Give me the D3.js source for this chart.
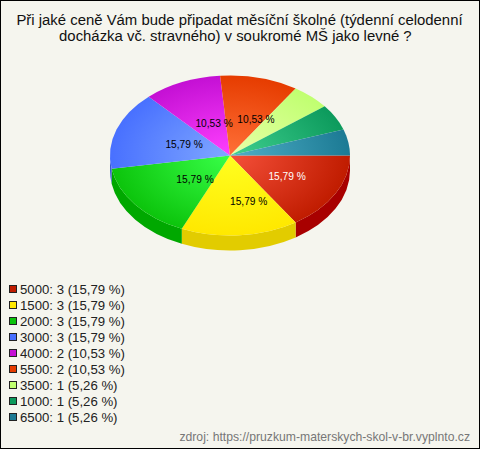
<!DOCTYPE html>
<html><head><meta charset="utf-8">
<script src="https://cdn.jsdelivr.net/npm/d3@7"></script>
<style>html,body{margin:0;padding:0;background:#f5f5ee}svg{display:block}text{font-family:"Liberation Sans",Arial,sans-serif}</style>
</head><body><svg id="c" width="480" height="449"></svg>
<script>
const categories=["5000","1500","2000","3000","4000","5500","3500","1000","6500"];
const counts=[3,3,3,3,2,2,1,1,1];
const percents=["15,79","15,79","15,79","15,79","10,53","10,53","5,26","5,26","5,26"];
const baseColors=["#c01c00","#ffe800","#0cc40c","#4870ff","#c410d4","#e63c00","#c0ff70","#0c9a5c","#1c7a94"];
const lightColors=["#f5503a","#ffff20","#38ff48","#80a8ff","#ff40ff","#ff7038","#e8ffa8","#40d090","#50b0c8"];
const sideColors=["#a80000","#e2cc00","#00a800","#3858d0","#9c0cac","#b83000","#9ccc58","#0a7a48","#166078"];
const titleLines=["Při jaké ceně Vám bude připadat měsíční školné (týdenní celodenní","docházka vč. stravného) v soukromé MŠ jako levné ?\u00a0\u00a0"];
const source="zdroj: https://pruzkum-materskych-skol-v-br.vyplnto.cz";
const labelNudge=[[0,0],[7,3],[3,-3],[1,2],[0,5],[5,4]];

const W=480,H=449,cx=230,cy=155.5,rx=120,ry=80,depth=15;
const svg=d3.select("#c");
svg.append("rect").attr("x",.5).attr("y",.5).attr("width",W-1).attr("height",H-1).attr("fill","#f5f5ee").attr("stroke","#000");

svg.append("g").selectAll("text").data(titleLines).join("text")
 .attr("x",239.5).attr("y",(d,i)=>25+i*15.5).attr("text-anchor","middle").attr("font-size",14.9).attr("fill","#111").text(d=>d);

const pie=d3.pie().sort(null).startAngle(0).endAngle(2*Math.PI);
const arcs=pie(counts);
const px=a=>cx+rx*Math.cos(a), py=a=>cy+ry*Math.sin(a);
const defs=svg.append("defs");
arcs.forEach((d,i)=>{
 const g=defs.append("radialGradient").attr("id","g"+i).attr("gradientUnits","userSpaceOnUse")
  .attr("cx",0).attr("cy",0).attr("r",1)
  .attr("gradientTransform",`translate(${cx},${cy}) scale(${rx},${ry})`);
 g.append("stop").attr("offset",0).attr("stop-color",lightColors[i]);
 g.append("stop").attr("offset",1).attr("stop-color",baseColors[i]);
});
const side=svg.append("g");
arcs.forEach((d,i)=>{
 const a0=Math.max(d.startAngle,0),a1=Math.min(d.endAngle,Math.PI);
 if(a0>=a1)return;
 side.append("path").attr("fill",sideColors[i]).attr("d",
  `M${px(a0)},${py(a0)}A${rx},${ry} 0 0 1 ${px(a1)},${py(a1)}L${px(a1)},${py(a1)+depth}A${rx},${ry} 0 0 0 ${px(a0)},${py(a0)+depth}Z`);
});
svg.append("g").selectAll("path").data(arcs).join("path")
 .attr("fill",(d,i)=>`url(#g${i})`)
 .attr("d",d=>`M${cx},${cy}L${px(d.startAngle)},${py(d.startAngle)}A${rx},${ry} 0 ${d.endAngle-d.startAngle>Math.PI?1:0} 1 ${px(d.endAngle)},${py(d.endAngle)}Z`);
svg.append("g").selectAll("text").data(arcs.slice(0,6)).join("text")
 .attr("x",(d,i)=>{const m=(d.startAngle+d.endAngle)/2;return cx+7+57*Math.cos(m)+labelNudge[i][0]})
 .attr("y",(d,i)=>{const m=(d.startAngle+d.endAngle)/2;return cy+.5+42*Math.sin(m)+labelNudge[i][1]+4})
 .attr("text-anchor","middle").attr("font-size",10.2)
 .attr("fill",(d,i)=>i===0?"#fff":"#000").text((d,i)=>percents[i]+" %");
const lg=svg.append("g").selectAll("g").data(categories).join("g")
 .attr("transform",(d,i)=>`translate(0,${288+i*16})`);
lg.append("rect").attr("x",9.5).attr("y",-2.5).attr("width",7).attr("height",7)
 .attr("fill",(d,i)=>baseColors[i]).attr("stroke","#222");
lg.append("text").attr("x",20).attr("y",5.5).attr("font-size",13.2).attr("fill","#222")
 .text((d,i)=>`${d}: ${counts[i]} (${percents[i]} %)`);
svg.append("text").attr("x",470).attr("y",441).attr("text-anchor","end").attr("font-size",12.2).attr("fill","#777").text(source);
</script></body></html>
